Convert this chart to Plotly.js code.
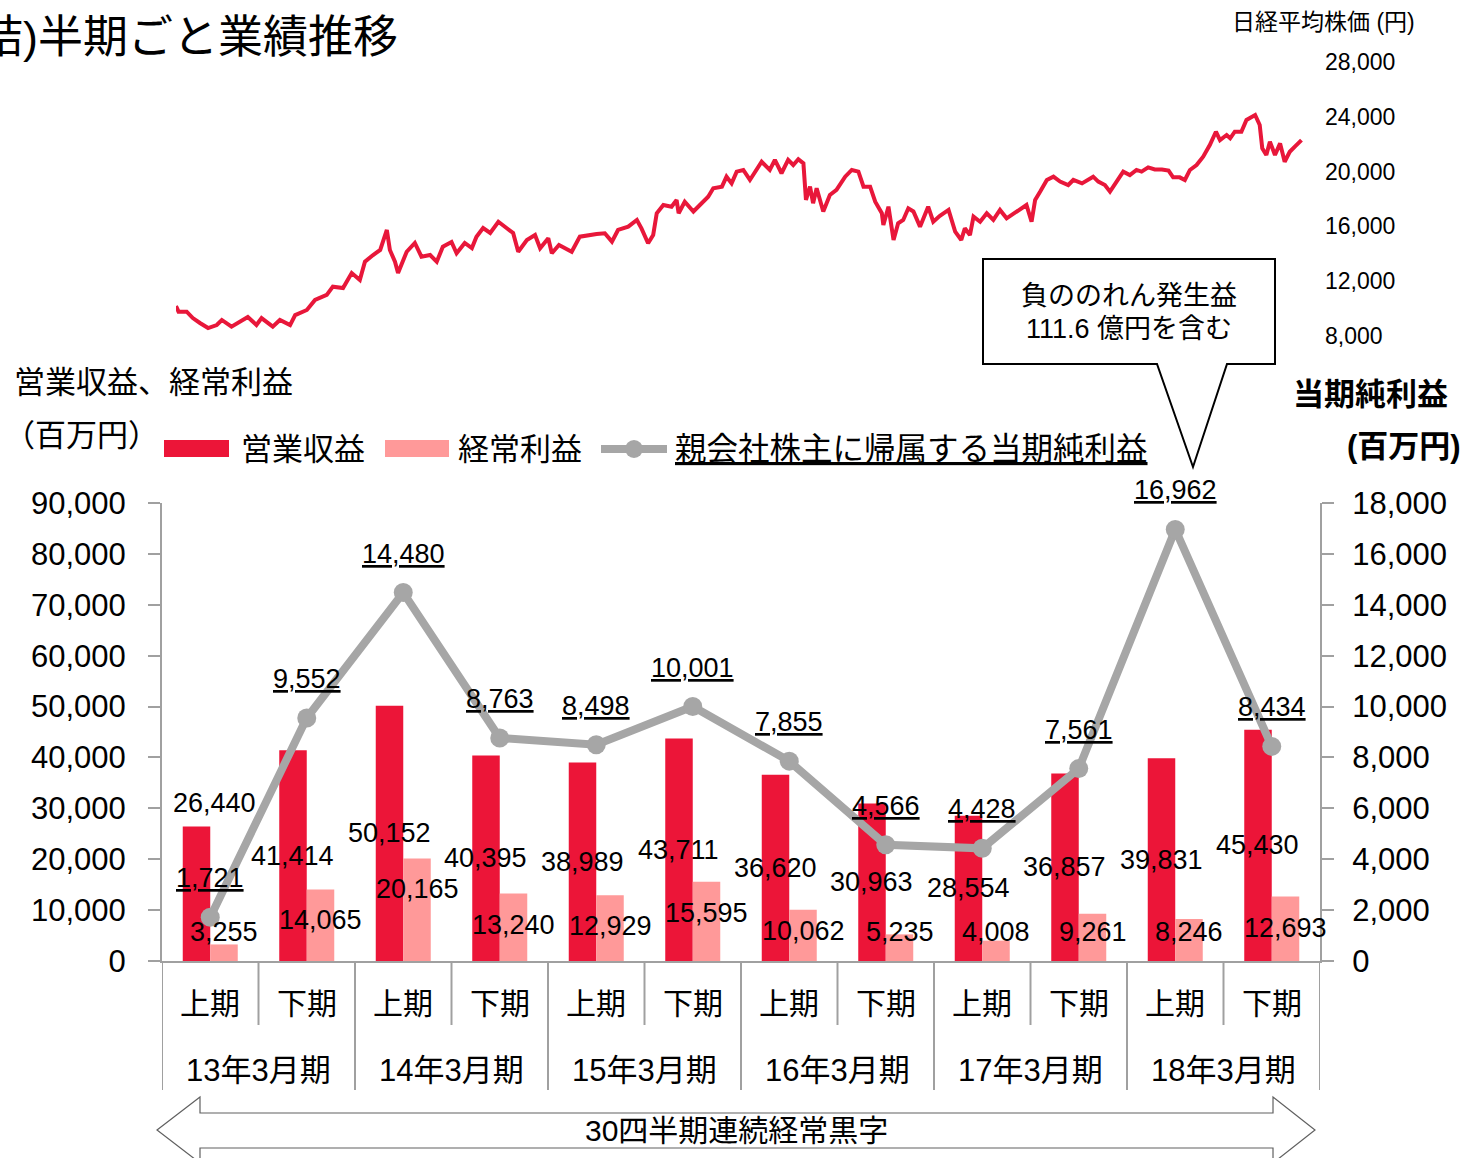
<!DOCTYPE html>
<html><head><meta charset="utf-8">
<script src="https://cdn.plot.ly/plotly-3.0.1.min.js"></script>
<style>html,body{margin:0;padding:0;background:#fff;}#chart{width:1464px;height:1158px;}</style>
</head><body><div id="chart"></div>
<script>
// ---------- data ----------
const fiscalYears = ['13年3月期','14年3月期','15年3月期','16年3月期','17年3月期','18年3月期'];
const halves = ['上期','下期'];
const operatingRevenue = [26440, 41414, 50152, 40395, 38989, 43711, 36620, 30963, 28554, 36857, 39831, 45430];
const ordinaryProfit   = [3255, 14065, 20165, 13240, 12929, 15595, 10062, 5235, 4008, 9261, 8246, 12693];
const netProfit        = [1721, 9552, 14480, 8763, 8498, 10001, 7855, 4566, 4428, 7561, 16962, 8434];
const leftTicks  = [0,10000,20000,30000,40000,50000,60000,70000,80000,90000];
const rightTicks = [0,2000,4000,6000,8000,10000,12000,14000,16000,18000];
const nikkeiTicks = [8000,12000,16000,20000,24000,28000];
const nikkeiDates = [
'2012-04-04','2012-04-09','2012-04-25','2012-05-07','2012-05-21','2012-06-06','2012-06-23','2012-07-03','2012-07-22','2012-08-08',
'2012-08-23','2012-09-09','2012-09-19','2012-10-11','2012-10-25','2012-11-14','2012-11-24','2012-12-17','2013-01-02','2013-01-25',
'2013-02-06','2013-02-26','2013-03-15','2013-03-31','2013-04-10','2013-04-26','2013-05-10','2013-05-23','2013-05-29','2013-06-08',
'2013-06-14','2013-07-01','2013-07-17','2013-07-30','2013-08-16','2013-08-29','2013-09-10','2013-09-27','2013-10-07','2013-10-23',
'2013-11-06','2013-11-15','2013-11-28','2013-12-12','2013-12-28','2014-01-13','2014-01-26','2014-02-05','2014-02-22','2014-03-10',
'2014-03-20','2014-04-05','2014-04-12','2014-04-26','2014-05-08','2014-05-21','2014-06-06','2014-06-23','2014-07-09','2014-07-25',
'2014-08-08','2014-08-20','2014-09-09','2014-09-26','2014-10-05','2014-10-18','2014-10-28','2014-11-04','2014-11-17','2014-12-03',
'2014-12-13','2014-12-17','2014-12-29','2015-01-15','2015-01-31','2015-02-13','2015-02-23','2015-03-12','2015-03-21','2015-03-31',
'2015-04-10','2015-04-23','2015-05-06','2015-05-19','2015-05-29','2015-06-14','2015-06-24','2015-07-07','2015-07-20','2015-07-30',
'2015-08-09','2015-08-19','2015-08-24','2015-09-01','2015-09-07','2015-09-14','2015-09-27','2015-10-10','2015-10-23','2015-11-09',
'2015-11-22','2015-12-05','2015-12-15','2015-12-28','2016-01-07','2016-01-20','2016-01-23','2016-02-02','2016-02-12','2016-02-21',
'2016-03-02','2016-03-12','2016-03-22','2016-04-04','2016-04-20','2016-04-30','2016-05-13','2016-05-30','2016-06-12','2016-06-24',
'2016-07-01','2016-07-11','2016-07-18','2016-07-31','2016-08-13','2016-08-26','2016-09-08','2016-09-21','2016-10-11','2016-10-30',
'2016-11-09','2016-11-16','2016-11-26','2016-12-09','2016-12-22','2017-01-04','2017-01-20','2017-01-30','2017-02-16','2017-03-01',
'2017-03-10','2017-03-20','2017-04-02','2017-04-12','2017-04-22','2017-05-08','2017-05-21','2017-06-03','2017-06-13','2017-06-26',
'2017-07-09','2017-07-23','2017-08-05','2017-08-14','2017-08-27','2017-09-06','2017-09-16','2017-09-29','2017-10-12','2017-10-25',
'2017-11-06','2017-11-14','2017-11-27','2017-12-04','2017-12-13','2017-12-26','2018-01-05','2018-01-22','2018-01-31','2018-02-05',
'2018-02-13','2018-02-20','2018-03-02','2018-03-12','2018-03-21','2018-03-31','2018-04-10','2018-04-23'];
const nikkeiValues = [
10190,9775,9775,9310,8950,8580,8800,9170,8680,9045,
9390,8800,9310,8680,9170,8800,9530,9900,10630,11000,
11600,11500,12600,12090,13420,13910,14280,15740,14280,13420,
12600,14150,14790,13790,13910,13420,14520,14860,14040,14790,
14420,15250,15880,15520,16340,15880,15520,14150,15010,15370,
14400,15130,14040,14640,14400,14150,15250,15370,15450,15500,
14890,15740,15980,16470,15860,14770,15370,16960,17560,17440,
17930,16960,17800,17090,17690,18170,18780,18900,19630,19140,
20000,20120,19390,20120,20720,20120,20850,19880,20850,20480,
20900,20600,17930,18900,17690,18780,17090,18290,18660,19630,
20120,20000,18900,18900,17800,16960,16100,17440,15010,16230,
16470,17320,17090,15980,17440,16340,16770,17200,15620,15010,
15860,15370,16710,16340,16960,16470,17200,16590,17090,17560,
16340,17930,18540,19390,19630,19270,19020,19390,19140,19390,
19630,19270,19020,18540,19140,20000,19750,20120,20000,20310,
20160,20160,20070,19580,19580,19390,20120,20480,21090,21940,
22910,22300,22670,22430,22910,22910,23770,24130,23400,21700,
21210,22180,21210,22060,20720,21450,21820,22300];

// ---------- layout helpers (not data) ----------
const W = 1464, H = 1158;
const px = x => x / W;
const py = y => 1 - y / H;
const FONT = '"Liberation Sans", Arial, "Noto Sans CJK JP", sans-serif';
const RED = '#EC1538', PINK = '#FF9999', GRAY = '#A6A6A6', AXIS = '#A0A0A0';
const fmt = v => v.toLocaleString('en-US');
const pinkLabelLift = [29, 41, 72, 36, 35, 48, 30, 29, 29, 29, 29, 33];
const redLabelOutside = [0];

const cats = [];
fiscalYears.forEach(y => halves.forEach(h => cats.push(y + ' ' + h)));

function txt(text, x, y, size, extra) {
  return Object.assign({text, x, y, xref:'paper', yref:'paper', showarrow:false,
    font:{family:FONT, size, color:'#000'}, xanchor:'center', yanchor:'middle'}, extra || {});
}

const traces = [
  {type:'bar', x:cats, y:operatingRevenue, name:'営業収益', marker:{color:RED}, xaxis:'x', yaxis:'y', hoverinfo:'skip'},
  {type:'bar', x:cats, y:ordinaryProfit, name:'経常利益', marker:{color:PINK}, xaxis:'x', yaxis:'y', hoverinfo:'skip'},
  {type:'scatter', mode:'lines+markers', x:cats, y:netProfit, name:'親会社株主に帰属する当期純利益',
   line:{color:GRAY, width:8}, marker:{color:GRAY, size:19}, xaxis:'x', yaxis:'y2', hoverinfo:'skip'},
  {type:'scatter', mode:'lines', x:nikkeiDates, y:nikkeiValues, name:'日経平均株価',
   line:{color:'#E8173A', width:4}, xaxis:'x2', yaxis:'y3', hoverinfo:'skip'}
];

const annotations = [];
const shapes = [];

// data labels
cats.forEach((c, i) => {
  const outside = redLabelOutside.includes(i);
  annotations.push({text:fmt(operatingRevenue[i]), x:i, xref:'x', yref:'y',
    y: outside ? operatingRevenue[i] : operatingRevenue[i] / 2,
    yanchor: outside ? 'bottom' : 'middle', yshift: outside ? 6 : 0, xshift: outside ? 4 : -14,
    showarrow:false, font:{family:FONT, size:27, color:'#000'}});
  annotations.push({text:fmt(ordinaryProfit[i]), x:i, xref:'x', y:0, yref:'y', yanchor:'middle',
    yshift:pinkLabelLift[i], xshift:14, showarrow:false, font:{family:FONT, size:27, color:'#000'}});
  annotations.push({text:'<u>' + fmt(netProfit[i]) + '</u>', x:i, xref:'x', y:netProfit[i], yref:'y2',
    yanchor:'middle', yshift:39, showarrow:false, font:{family:FONT, size:27, color:'#000'}});
  annotations.push({text:halves[i % 2], x:i, xref:'x', y:py(1003), yref:'paper', yanchor:'middle',
    showarrow:false, font:{family:FONT, size:30, color:'#000'}});
});
fiscalYears.forEach((fy, j) => {
  annotations.push({text:fy, x:2*j + 0.5, xref:'x', y:py(1070), yref:'paper', yanchor:'middle',
    showarrow:false, font:{family:FONT, size:31, color:'#000'}});
});
// category dividers
for (let k = 0; k <= cats.length; k++) {
  const b = k - 0.5;
  const bottom = (k % 2 === 0) ? 1090 : 1025;
  shapes.push({type:'line', xref:'x', yref:'paper', x0:b, x1:b, y0:py(961), y1:py(bottom),
    line:{color:AXIS, width:2}});
}

// titles and texts
annotations.push(txt('（連結)半期ごと業績推移', px(400), py(38), 45, {xanchor:'right'}));
annotations.push(txt('日経平均株価 (円)', px(1323), py(22), 23));
annotations.push(txt('営業収益、経常利益', px(12), py(382), 31, {xanchor:'left'}));
annotations.push(txt('（百万円）', px(2), py(436), 31, {xanchor:'left'}));
annotations.push(txt('<b>当期純利益</b>', px(1450), py(395), 31, {xanchor:'right'}));
annotations.push(txt('<b>(百万円)</b>', px(1463), py(446), 31, {xanchor:'right'}));

// legend (manual)
shapes.push({type:'rect', xref:'paper', yref:'paper', x0:px(164), x1:px(229), y0:py(457), y1:py(440), fillcolor:RED, line:{width:0}});
annotations.push(txt('営業収益', px(239), py(449), 31, {xanchor:'left'}));
shapes.push({type:'rect', xref:'paper', yref:'paper', x0:px(385), x1:px(449), y0:py(457), y1:py(440), fillcolor:PINK, line:{width:0}});
annotations.push(txt('経常利益', px(456), py(449), 31, {xanchor:'left'}));
shapes.push({type:'line', xref:'paper', yref:'paper', x0:px(601), x1:px(667), y0:py(449), y1:py(449), line:{color:GRAY, width:8}});
shapes.push({type:'circle', xref:'paper', yref:'paper', x0:px(625), x1:px(643), y0:py(458), y1:py(440), fillcolor:GRAY, line:{width:0}});
annotations.push(txt('<u>親会社株主に帰属する当期純利益</u>', px(673), py(449), 31.5, {xanchor:'left'}));

// callout
const P = (x, y) => px(x).toFixed(5) + ',' + py(y).toFixed(5);
shapes.push({type:'path', xref:'paper', yref:'paper',
  path:'M' + P(983,259) + 'L' + P(1275,259) + 'L' + P(1275,364) + 'L' + P(1227,364) + 'L' + P(1193,467) +
       'L' + P(1157,364) + 'L' + P(983,364) + 'Z',
  fillcolor:'#fff', line:{color:'#000', width:2}});
annotations.push(txt('負ののれん発生益', px(1129), py(296), 27));
annotations.push(txt('111.6 億円を含む', px(1129), py(329), 27));

// bottom double arrow
shapes.push({type:'path', xref:'paper', yref:'paper',
  path:'M' + P(157,1130) + 'L' + P(200,1097) + 'L' + P(200,1113) + 'L' + P(1273,1113) + 'L' + P(1273,1097) +
       'L' + P(1315,1130) + 'L' + P(1273,1163) + 'L' + P(1273,1148) + 'L' + P(200,1148) + 'L' + P(200,1163) + 'Z',
  fillcolor:'#fff', line:{color:'#606060', width:1.2}});
annotations.push(txt('30四半期連続経常黒字', px(736), py(1130), 30));

const axisFont = {family:FONT, size:31, color:'#000'};
const layout = {
  width:W, height:H, autosize:false,
  margin:{l:0, r:0, t:0, b:0},
  paper_bgcolor:'#fff', plot_bgcolor:'rgba(0,0,0,0)',
  showlegend:false, hovermode:false,
  barmode:'group', bargap:0.43, bargroupgap:0,
  xaxis:{domain:[px(162), px(1320)], anchor:'y', type:'category', categoryarray:cats, categoryorder:'array',
    range:[-0.5, 11.5], showticklabels:false, ticks:'', showline:true, linecolor:AXIS, linewidth:2,
    showgrid:false, zeroline:false, fixedrange:true},
  yaxis:{domain:[py(961), py(503)], anchor:'x', range:[0, 90000], tickvals:leftTicks, tickformat:',d',
    ticks:'outside', ticklen:12, tickwidth:2, tickcolor:AXIS, showline:true, linecolor:AXIS, linewidth:2,
    showgrid:false, zeroline:false, tickfont:axisFont, ticklabelstandoff:16},
  yaxis2:{overlaying:'y', anchor:'x', side:'right', range:[0, 18000], tickvals:rightTicks, tickformat:',d',
    ticks:'outside', ticklen:12, tickwidth:2, tickcolor:AXIS, showline:true, linecolor:AXIS, linewidth:2,
    showgrid:false, zeroline:false, tickfont:axisFont, ticklabelstandoff:12},
  xaxis2:{domain:[px(176), px(1303)], anchor:'y3', type:'date', range:['2012-04-04','2018-04-26'],
    visible:false, showgrid:false, zeroline:false},
  yaxis3:{domain:[py(336), py(62)], anchor:'free', position:px(1320), side:'right', range:[8000, 28000],
    tickvals:nikkeiTicks, tickformat:',d', ticks:'', showline:false, showgrid:false, zeroline:false,
    tickfont:{family:FONT, size:23, color:'#000'}, ticklabelstandoff:4},
  annotations, shapes
};

Plotly.newPlot('chart', traces, layout, {staticPlot:true, displayModeBar:false});
</script></body></html>
